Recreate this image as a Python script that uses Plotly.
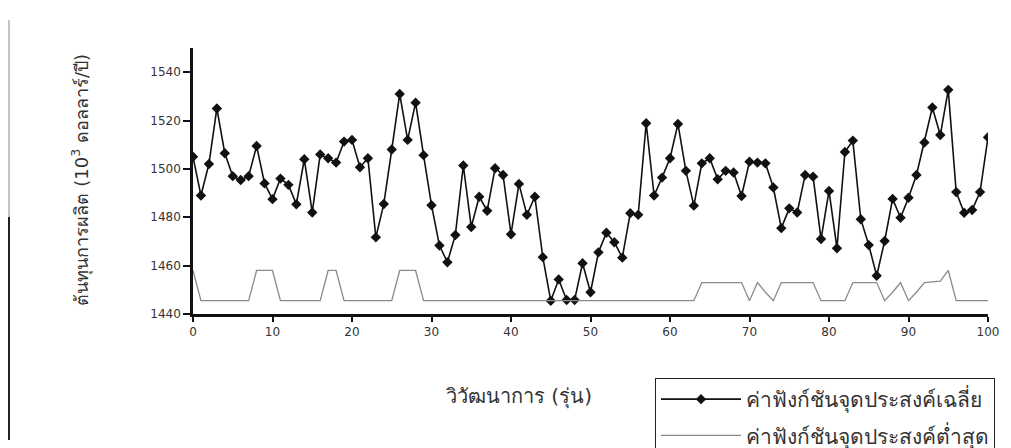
import plotly.graph_objects as go

generations = list(range(0, 101))

avg_cost = [
    1505, 1489, 1502, 1525, 1506.5, 1497, 1495.4, 1497, 1509.5, 1494,
    1487.5, 1496, 1493.4, 1485.4, 1504, 1482, 1506, 1504.4, 1502.6, 1511.3,
    1512, 1500.7, 1504.4, 1471.7, 1485.5, 1508, 1531, 1512, 1527.4, 1505.7,
    1485, 1468.3, 1461.4, 1472.7, 1501.4, 1476, 1488.5, 1482.7, 1500.3, 1497.5,
    1473, 1493.8, 1481, 1488.5, 1463.5, 1445.5, 1454.3, 1445.8, 1445.8, 1461,
    1449, 1465.5, 1473.6, 1469.7, 1463.3, 1481.7, 1481, 1518.9, 1489, 1496.4,
    1504.4, 1518.6, 1499.2, 1484.8, 1502.3, 1504.4, 1495.7, 1499.2, 1498.5, 1488.8,
    1503, 1502.6, 1502.3, 1492.3, 1475.5, 1483.7, 1482, 1497.5, 1496.8, 1471,
    1490.9, 1467.2, 1507, 1511.7, 1479.2, 1468.5, 1455.8, 1470.2, 1487.6, 1479.8,
    1488.1, 1497.5, 1510.9, 1525.4, 1514, 1532.7, 1490.4, 1481.9, 1483, 1490.4,
    1513.1,
]

min_cost = (
    [1458]
    + [1445.5] * 7          # 1-7
    + [1458] * 3            # 8-10
    + [1445.5] * 6          # 11-16
    + [1458] * 2            # 17-18
    + [1445.5] * 7          # 19-25
    + [1458] * 3            # 26-28
    + [1445.5] * 35         # 29-63
    + [1453] * 6            # 64-69
    + [1445.5, 1453, 1449, 1445.5]   # 70-73
    + [1453] * 5            # 74-78
    + [1445.5] * 4          # 79-82
    + [1453] * 4            # 83-86
    + [1445.5, 1449, 1453, 1445.5, 1449]  # 87-91
    + [1453, 1453.3, 1453.6, 1458]   # 92-95
    + [1445.5] * 5          # 96-100
)

x_ticks = list(range(0, 101, 10))
y_ticks = list(range(1440, 1541, 20))

name_avg = "ค่าฟังก์ชันจุดประสงค์เฉลี่ย"
name_min = "ค่าฟังก์ชันจุดประสงค์ต่ำสุด"
x_title = "วิวัฒนาการ (รุ่น)"
y_title = "ต้นทุนการผลิต (10<sup>3</sup> ดอลลาร์/ปี)"

fig = go.Figure()
fig.add_trace(go.Scatter(
    x=generations, y=avg_cost, name=name_avg, mode="lines+markers",
    legendgroup="avg",
    line=dict(color="#111111", width=1.6),
    marker=dict(symbol="diamond", size=8, color="#111111"),
))
fig.add_trace(go.Scatter(
    x=generations, y=min_cost, name=name_min, mode="lines",
    legendgroup="min",
    line=dict(color="#8a8a8a", width=1.3),
))

W, H = 1011, 448
L, R, T, B = 193, 23, 48, 134
pw, ph = W - L - R, H - T - B

def px(xp):
    return (xp - L) / pw

def py(yp):
    return (H - B - yp) / ph

fig.update_layout(
    width=W, height=H,
    margin=dict(l=L, r=R, t=T, b=B, autoexpand=False),
    paper_bgcolor="white", plot_bgcolor="white",
    font=dict(family="DejaVu Sans, Noto Sans", color="#222222"),
    showlegend=True,
    legend=dict(
        x=px(655), y=py(378), xanchor="left", yanchor="top",
        bordercolor="#222222", borderwidth=1, bgcolor="white",
        font=dict(size=21, color="#333333"), itemwidth=80,
        tracegroupgap=6,
    ),
)
fig.update_xaxes(
    range=[0, 100], tickvals=x_ticks, ticks="outside", ticklen=5, tickwidth=2,
    tickcolor="#111111", showline=True, linewidth=2.5, linecolor="#111111",
    showgrid=False, zeroline=False, tickfont=dict(size=12, color="#333333"),
)
fig.update_yaxes(
    range=[1440, 1550], tickvals=y_ticks, ticks="outside", ticklen=7, tickwidth=2,
    tickcolor="#111111", showline=True, linewidth=2.5, linecolor="#111111",
    showgrid=False, zeroline=False, tickfont=dict(size=12, color="#333333"),
)

fig.add_annotation(
    text=y_title, x=px(66), y=py(180), xref="paper", yref="paper",
    textangle=-90, showarrow=False, font=dict(size=18, color="#333333"),
)
fig.add_annotation(
    text=x_title, x=px(519), y=py(411), xref="paper", yref="paper",
    showarrow=False, font=dict(size=20, color="#333333"),
)

# scanned page border on the left
fig.add_shape(type="line", xref="paper", yref="paper",
              x0=px(9), x1=px(9), y0=py(20), y1=py(217),
              line=dict(color="#b0b0b0", width=1.5))
fig.add_shape(type="line", xref="paper", yref="paper",
              x0=px(9), x1=px(9), y0=py(217), y1=py(440),
              line=dict(color="#222222", width=2))

fig.write_html(
    "out.html",
    config={"displayModeBar": False},
    post_script="document.body.style.margin='0px';document.body.style.overflow='hidden';",
)
